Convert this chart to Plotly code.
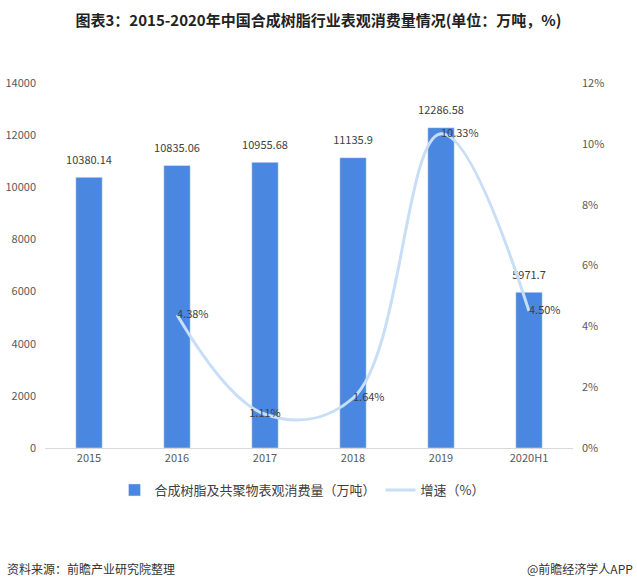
import plotly.graph_objects as go

categories = ["2015", "2016", "2017", "2018", "2019", "2020H1"]
consumption = [10380.14, 10835.06, 10955.68, 11135.9, 12286.58, 5971.7]
growth_cats = ["2016", "2017", "2018", "2019", "2020H1"]
growth = [4.38, 1.11, 1.64, 10.33, 4.50]
growth_pos = ["middle right", "middle center", "middle right", "middle right", "middle right"]
left_ticks = [0, 2000, 4000, 6000, 8000, 10000, 12000, 14000]
right_ticks = [0, 2, 4, 6, 8, 10, 12]

FONT = "Noto Sans CJK SC, Microsoft YaHei, sans-serif"

fig = go.Figure()
fig.add_trace(go.Bar(
    x=categories, y=consumption, name="合成树脂及共聚物表观消费量（万吨）",
    marker_color="#4a87e0", width=0.3,
))
fig.add_trace(go.Scatter(
    x=growth_cats, y=growth, name="增速（%）", yaxis="y2", mode="lines+text",
    line=dict(color="#c8def7", width=3, shape="spline", smoothing=1.1),
    text=[f"{v:.2f}%" for v in growth], textposition=growth_pos,
    textfont=dict(size=11, color="#404040"), cliponaxis=False,
))
fig.add_trace(go.Scatter(
    x=categories, y=consumption, mode="markers+text", showlegend=False,
    marker=dict(size=16, opacity=0),
    text=[str(v) for v in consumption], textposition="top center",
    textfont=dict(size=11, color="#404040"), cliponaxis=False, hoverinfo="skip",
))

fig.update_layout(
    width=637, height=586,
    margin=dict(l=45, r=64, t=83, b=138, autoexpand=False),
    paper_bgcolor="white", plot_bgcolor="white",
    font=dict(family=FONT, size=11, color="#595959"),
    title=dict(text="<b>图表3：2015-2020年中国合成树脂行业表观消费量情况(单位：万吨，%)</b>",
               x=0.5, xanchor="center", y=0.965, yanchor="middle",
               font=dict(size=15, color="#222222", family=FONT)),
    xaxis=dict(type="category", showline=True, linecolor="#d9d9d9", ticks="",
               automargin=False, tickfont=dict(size=11, color="#595959")),
    yaxis=dict(range=[0, 14000], tickvals=left_ticks, tickformat="d", showgrid=False,
               zeroline=False, automargin=False, ticklabelstandoff=8,
               tickfont=dict(size=11, color="#595959")),
    yaxis2=dict(range=[0, 12], tickvals=right_ticks, ticktext=[f"{t}%" for t in right_ticks],
                overlaying="y", side="right", showgrid=False, zeroline=False, automargin=False,
                ticklabelstandoff=8, tickfont=dict(size=11, color="#595959")),
    legend=dict(orientation="h", x=(302 - 45) / 528, xanchor="center", y=-42/365, yanchor="middle",
                font=dict(size=13, color="#404040"), traceorder="normal", itemwidth=30),
    bargap=0.7,
    showlegend=True,
)
fig.add_annotation(text="资料来源：前瞻产业研究院整理", xref="paper", yref="paper",
                   x=-40/528, y=-120/365, xanchor="left", yanchor="middle", showarrow=False,
                   font=dict(size=12, color="#333333"))
fig.add_annotation(text="@前瞻经济学人APP", xref="paper", yref="paper",
                   x=1 + 62/528, y=-120/365, xanchor="right", yanchor="middle", showarrow=False,
                   font=dict(size=12, color="#333333"))
fig.write_html("out.html", config={"displayModeBar": False},
               post_script="document.body.style.margin='0';")
